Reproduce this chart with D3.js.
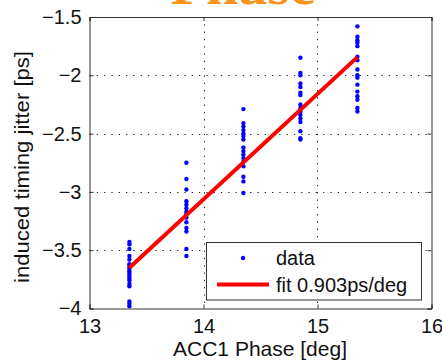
<!DOCTYPE html>
<html><head><meta charset="utf-8">
<script src="https://cdn.jsdelivr.net/npm/d3@7"></script>
<style>body{margin:0;background:#fff}svg{display:block}</style>
</head><body>
<script>
const phases = [13.35, 13.85, 14.35, 14.85, 15.35];
const jitter1 = [-3.43,-3.45,-3.49,-3.55,-3.58,-3.62,-3.64,-3.66,-3.68,-3.70,-3.72,-3.74,-3.76,-3.79,-3.81,-3.94,-3.96,-3.98];
const jitter2 = [-2.75,-2.89,-2.98,-3.08,-3.11,-3.14,-3.17,-3.19,-3.22,-3.26,-3.31,-3.34,-3.49,-3.55];
const jitter3 = [-2.29,-2.41,-2.44,-2.47,-2.50,-2.52,-2.55,-2.62,-2.65,-2.68,-2.71,-2.74,-2.78,-2.87,-2.91,-3.01];
const jitter4 = [-1.85,-1.98,-2.00,-2.07,-2.10,-2.15,-2.17,-2.25,-2.28,-2.31,-2.34,-2.37,-2.40,-2.48,-2.54,-2.55];
const jitter5 = [-1.58,-1.67,-1.70,-1.72,-1.75,-1.84,-1.87,-1.95,-2.00,-2.02,-2.08,-2.14,-2.18,-2.21,-2.28,-2.31];
const fitX = [13.35, 15.35];
const fitY = [-3.65, -1.844];
const xTicks = [13, 14, 15, 16];
const yTicks = [-4, -3.5, -3, -2.5, -2, -1.5];
const yTickLabels = ["\u22124", "\u22123.5", "\u22123", "\u22122.5", "\u22122", "\u22121.5"];
const legendLabels = ["data", "fit 0.903ps/deg"];

const W = 442, H = 363;
const m = {l: 89.5, r: 431.5, t: 17, b: 308.5};
const svg = d3.select("body").append("svg").attr("width", W).attr("height", H)
  .style("font-family", "'Liberation Sans', Arial, sans-serif");
const x = d3.scaleLinear().domain([13, 16]).range([m.l, m.r]);
const y = d3.scaleLinear().domain([-4, -1.5]).range([m.b, m.t]);

// title (cropped at the top edge, as in the reference)
svg.append("text").attr("x", 243).attr("y", 4).attr("text-anchor", "middle")
  .style("font-family", "'Liberation Serif', 'Times New Roman', serif")
  .style("font-weight", "bold").style("font-size", "58px").attr("fill", "#f7941d").text("Phase");

svg.append("rect").attr("x", m.l).attr("y", m.t).attr("width", m.r - m.l).attr("height", m.b - m.t).attr("fill", "#fff");

// grid
const grid = svg.append("g").attr("stroke", "#222").attr("stroke-width", 1).attr("stroke-dasharray", "1.3,6");
grid.selectAll("line.gx").data(xTicks.slice(1, -1)).enter().append("line")
  .attr("x1", d => Math.round(x(d)) + 0.5).attr("x2", d => Math.round(x(d)) + 0.5).attr("y1", m.t).attr("y2", m.b);
grid.selectAll("line.gy").data(yTicks.slice(1, -1)).enter().append("line")
  .attr("y1", d => Math.round(y(d)) + 0.5).attr("y2", d => Math.round(y(d)) + 0.5).attr("x1", m.l).attr("x2", m.r);

// axes
const tickFmt = (d, i) => yTickLabels[i];
const fs = "20px";
const xAxis = svg.append("g").attr("transform", `translate(0,${m.b})`)
  .call(d3.axisBottom(x).tickValues(xTicks).tickSize(-4).tickPadding(10).tickFormat(d3.format("d")));
const xAxisTop = svg.append("g").attr("transform", `translate(0,${m.t})`)
  .call(d3.axisTop(x).tickValues(xTicks).tickSize(-4).tickFormat(""));
const yAxis = svg.append("g").attr("transform", `translate(${m.l},0)`)
  .call(d3.axisLeft(y).tickValues(yTicks).tickSize(-4).tickPadding(8).tickFormat(tickFmt));
const yAxisR = svg.append("g").attr("transform", `translate(${m.r},0)`)
  .call(d3.axisRight(y).tickValues(yTicks).tickSize(-4).tickFormat(""));
[xAxis, xAxisTop, yAxis, yAxisR].forEach(g => {
  g.selectAll("path").attr("stroke", "#333");
  g.selectAll("line").attr("stroke", "#333");
  g.selectAll("text").style("font-size", fs).attr("fill", "#111").style("font-family", "'Liberation Sans', Arial, sans-serif");
});

// data points
const allData = [jitter1, jitter2, jitter3, jitter4, jitter5];
const pts = [];
allData.forEach((arr, i) => arr.forEach(v => pts.push({x: phases[i], y: v})));
svg.append("g").selectAll("circle").data(pts).enter().append("circle")
  .attr("cx", d => x(d.x)).attr("cy", d => y(d.y)).attr("r", 2.2).attr("fill", "#0000ff");

// fit line
const line = d3.line().x(d => x(d[0])).y(d => y(d[1]));
svg.append("path").datum(fitX.map((v, i) => [v, fitY[i]])).attr("d", line)
  .attr("stroke", "#ff0000").attr("stroke-width", 4).attr("fill", "none");

// legend
const lg = svg.append("g");
lg.append("rect").attr("x", 206.5).attr("y", 242.5).attr("width", 215).attr("height", 57.5)
  .attr("fill", "#fff").attr("stroke", "#333");
lg.append("circle").attr("cx", 243).attr("cy", 258).attr("r", 2.2).attr("fill", "#0000ff");
lg.append("line").attr("x1", 217).attr("x2", 269).attr("y1", 284.5).attr("y2", 284.5).attr("stroke", "#ff0000").attr("stroke-width", 4);
lg.selectAll("text").data(legendLabels).enter().append("text")
  .attr("x", 276).attr("y", (d, i) => 265 + i * 27).style("font-size", fs).attr("fill", "#111").text(d => d);

// axis labels
svg.append("text").attr("x", 260).attr("y", 356).attr("text-anchor", "middle").style("font-size", "21px").attr("fill", "#111").text("ACC1 Phase [deg]");
svg.append("text").attr("transform", "translate(29,167) rotate(-90)").attr("text-anchor", "middle")
  .attr("textLength", 232).attr("lengthAdjust", "spacingAndGlyphs")
  .style("font-size", "20px").attr("fill", "#111").text("induced timing jitter [ps]");
</script>
</body></html>
